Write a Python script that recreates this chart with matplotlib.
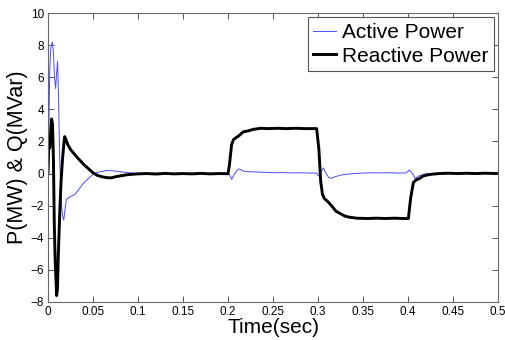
import matplotlib
matplotlib.use("Agg")
import matplotlib.pyplot as plt

plt.rcParams["font.family"] = ["Liberation Sans", "DejaVu Sans"]

# (time [s], active power [MW])
ACTIVE = [
    (0.0, 0.3), (0.001, 3.0), (0.002, 6.5), (0.003, 7.8), (0.0048, 8.2),
    (0.006, 7.6), (0.0072, 6.0), (0.0085, 5.3), (0.0095, 6.2), (0.0107, 7.0),
    (0.0118, 4.5), (0.013, 1.0), (0.0145, -1.5), (0.016, -2.6), (0.0175, -2.9),
    (0.019, -2.2), (0.0205, -1.6), (0.023, -1.5), (0.026, -1.4), (0.03, -1.3),
    (0.034, -1.0), (0.038, -0.7), (0.042, -0.45), (0.046, -0.25), (0.05, -0.05),
    (0.054, 0.05), (0.058, 0.12), (0.062, 0.15), (0.066, 0.2), (0.07, 0.18),
    (0.075, 0.15), (0.08, 0.12), (0.085, 0.08), (0.09, 0.05), (0.095, 0.03),
    (0.1, 0.02), (0.11, 0.0), (0.12, 0.02), (0.13, 0.0), (0.14, 0.01),
    (0.15, 0.0), (0.16, 0.02), (0.17, 0.0), (0.18, 0.01), (0.19, 0.0),
    (0.2, 0.0), (0.202, -0.1), (0.2041, -0.36), (0.207, -0.05), (0.21, 0.2),
    (0.2126, 0.29), (0.216, 0.18), (0.22, 0.12), (0.23, 0.1), (0.24, 0.08),
    (0.25, 0.05), (0.26, 0.06), (0.27, 0.04), (0.28, 0.05), (0.29, 0.03),
    (0.2985, 0.03), (0.3004, -0.15), (0.303, 0.1), (0.306, 0.35), (0.309, 0.0),
    (0.312, -0.25), (0.315, -0.3), (0.319, -0.2), (0.325, -0.1), (0.33, -0.05),
    (0.34, 0.0), (0.35, 0.03), (0.36, 0.05), (0.37, 0.04), (0.38, 0.05),
    (0.39, 0.03), (0.398, 0.04), (0.4015, 0.22), (0.405, 0.0), (0.408, -0.3),
    (0.412, -0.15), (0.417, -0.05), (0.423, 0.0), (0.43, 0.0), (0.44, 0.02),
    (0.45, 0.0), (0.46, 0.01), (0.47, 0.0), (0.48, 0.01), (0.49, 0.0), (0.5, 0.0),
]

# (time [s], reactive power [MVar])
REACTIVE = [
    (0.0, 0.0), (0.001, 2.0), (0.002, 1.6), (0.003, 2.6), (0.004, 3.4),
    (0.005, 3.1), (0.006, 1.0), (0.007, -3.2), (0.008, -5.5), (0.0088, -6.5),
    (0.0096, -7.6), (0.0105, -7.2), (0.0115, -5.0), (0.013, -2.5), (0.0145, -0.5),
    (0.016, 0.8), (0.0175, 1.8), (0.0185, 2.3), (0.02, 2.1), (0.022, 1.8),
    (0.025, 1.5), (0.028, 1.3), (0.031, 1.1), (0.035, 0.85), (0.04, 0.55),
    (0.045, 0.3), (0.05, 0.05), (0.055, -0.12), (0.06, -0.2), (0.065, -0.25),
    (0.07, -0.27), (0.075, -0.2), (0.08, -0.15), (0.085, -0.1), (0.09, -0.06),
    (0.095, -0.04), (0.1, -0.02), (0.11, 0.0), (0.12, -0.03), (0.13, 0.01),
    (0.14, -0.02), (0.15, 0.0), (0.16, -0.02), (0.17, 0.01), (0.18, -0.02),
    (0.19, 0.0), (0.2, -0.01), (0.2015, 0.5), (0.204, 1.8), (0.206, 2.1),
    (0.208, 2.2), (0.212, 2.35), (0.217, 2.6), (0.222, 2.65), (0.228, 2.75),
    (0.236, 2.82), (0.245, 2.8), (0.255, 2.82), (0.265, 2.8), (0.275, 2.82),
    (0.285, 2.8), (0.295, 2.8), (0.2985, 2.8), (0.301, 1.5), (0.303, -0.5),
    (0.305, -1.3), (0.307, -1.55), (0.311, -1.75), (0.315, -2.0), (0.32, -2.35),
    (0.325, -2.5), (0.33, -2.65), (0.335, -2.72), (0.343, -2.78), (0.355, -2.8),
    (0.365, -2.78), (0.375, -2.8), (0.385, -2.78), (0.395, -2.8), (0.4004, -2.8),
    (0.403, -1.5), (0.406, -0.55), (0.409, -0.4), (0.413, -0.3), (0.417, -0.15),
    (0.422, -0.08), (0.428, -0.03), (0.435, 0.0), (0.445, 0.02), (0.455, 0.0),
    (0.465, 0.02), (0.475, 0.0), (0.485, 0.02), (0.5, 0.0),
]

X_TICKS = [0, 0.05, 0.1, 0.15, 0.2, 0.25, 0.3, 0.35, 0.4, 0.45, 0.5]
X_TICK_LABELS = ["0", "0.05", "0.1", "0.15", "0.2", "0.25", "0.3", "0.35", "0.4", "0.45", "0.5"]
Y_TICKS = [-8, -6, -4, -2, 0, 2, 4, 6, 8, 10]


def main():
    t_p, p = zip(*ACTIVE)
    t_q, q = zip(*REACTIVE)

    fig = plt.figure(figsize=(5.05, 3.4), dpi=100)
    ax = fig.add_axes([48 / 505, 38 / 340, 450 / 505, 289 / 340])

    ax.plot(t_p, p, color="#4a4aff", linewidth=0.7, label="Active Power")
    ax.plot(t_q, q, color="black", linewidth=2.1, label="Reactive Power")

    ax.set_xlim(0, 0.5)
    ax.set_ylim(-8, 10)
    ax.set_xticks(X_TICKS)
    ax.set_xticklabels(X_TICK_LABELS)
    ax.set_yticks(Y_TICKS)
    ax.tick_params(direction="in", top=True, right=True, length=4, width=0.7,
                   color="#555555", labelsize=8.5, pad=3)
    for spine in ax.spines.values():
        spine.set_color("#666666")
        spine.set_linewidth(0.8)

    ax.set_xlabel("Time(sec)", fontsize=15, labelpad=0)
    ax.set_ylabel("P(MW) & Q(MVar)", fontsize=15.5, labelpad=2)

    leg = ax.legend(loc="upper right", fontsize=15, handlelength=1.1,
                    handletextpad=0.25, borderpad=0.28, labelspacing=0.22,
                    borderaxespad=0.2, fancybox=False, framealpha=1)
    leg.get_frame().set_edgecolor("#555555")
    leg.get_frame().set_linewidth(0.8)

    fig.savefig("out.png", dpi=100)


if __name__ == "__main__":
    main()
